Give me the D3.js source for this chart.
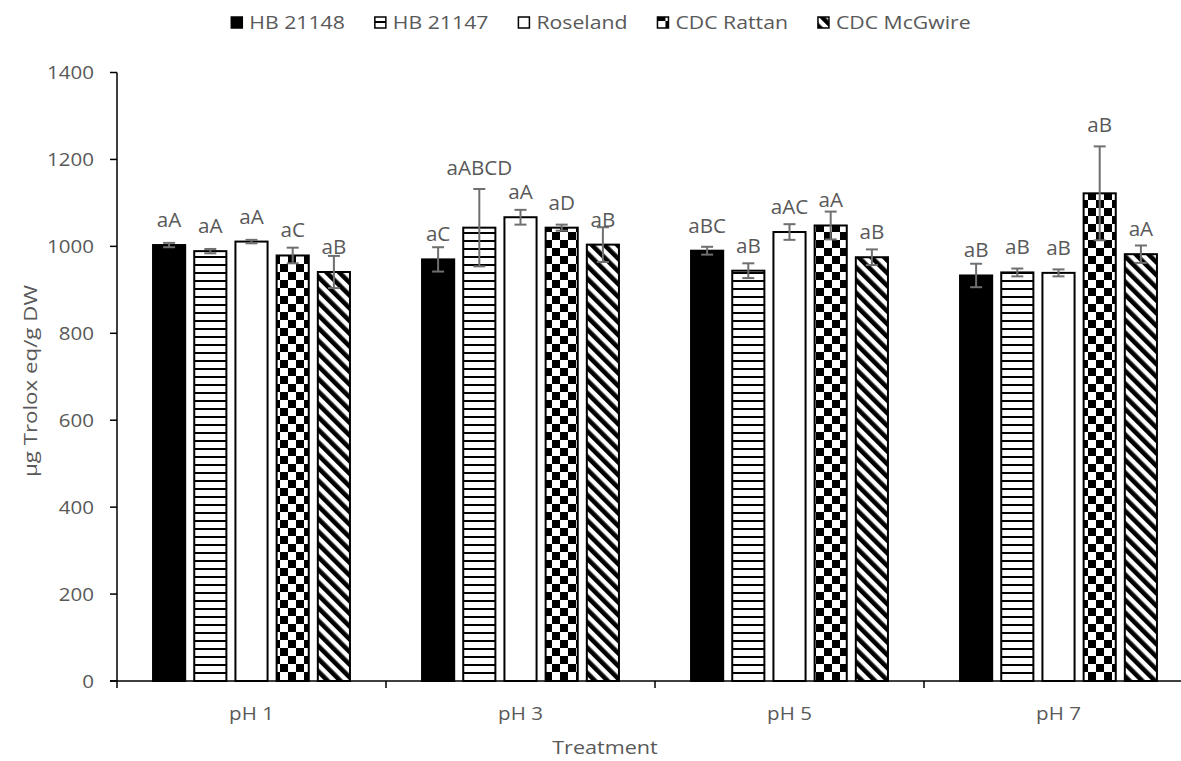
<!DOCTYPE html>
<html><head><meta charset="utf-8">
<script src="https://cdn.jsdelivr.net/npm/d3@7"></script>
<style>html,body{margin:0;padding:0;background:#fff;}svg{display:block;}</style>
</head><body>
<svg id="chart" width="1181" height="761"></svg>
<script>
// ---- data ----
const categories = ["pH 1", "pH 3", "pH 5", "pH 7"];
const seriesNames = ["HB 21148", "HB 21147", "Roseland", "CDC Rattan", "CDC McGwire"];
const hb21148 = [1003, 970, 990, 933];
const hb21147 = [989, 1043, 944, 940];
const roseland = [1011, 1067, 1033, 939];
const cdcRattan = [979, 1043, 1048, 1122];
const cdcMcGwire = [941, 1004, 975, 982];
const errHb21148 = [5, 28, 9, 27];
const errHb21147 = [5, 89, 17, 9];
const errRoseland = [4, 17, 18, 8];
const errCdcRattan = [18, 7, 32, 108];
const errCdcMcGwire = [37, 40, 18, 20];
const lblHb21148 = ["aA", "aC", "aBC", "aB"];
const lblHb21147 = ["aA", "aABCD", "aB", "aB"];
const lblRoseland = ["aA", "aA", "aAC", "aB"];
const lblCdcRattan = ["aC", "aD", "aA", "aB"];
const lblCdcMcGwire = ["aB", "aB", "aB", "aA"];
const yTicks = [0, 200, 400, 600, 800, 1000, 1200, 1400];
const yTitle = "µg Trolox eq/g DW";
const xTitle = "Treatment";

const values = [hb21148, hb21147, roseland, cdcRattan, cdcMcGwire];
const errors = [errHb21148, errHb21147, errRoseland, errCdcRattan, errCdcMcGwire];
const labels = [lblHb21148, lblHb21147, lblRoseland, lblCdcRattan, lblCdcMcGwire];

// ---- layout ----
const svg = d3.select("#chart");
const left = 117, band = 269, y0px = 681, yTopPx = 72.5;
const FONT = "'Open Sans', sans-serif";
const TXT = "#595959";
const FS = 18, SX = 1.14, FSL = 20, SXL = 1.03;

const x0 = d3.scaleBand().domain(categories).range([left, left + band * categories.length]).padding(0);
const x1 = d3.scaleBand().domain(seriesNames).range([0, band]).paddingInner(0.22).paddingOuter(0.875);
const y = d3.scaleLinear().domain([0, 1400]).range([y0px, yTopPx]);

// ---- patterns ----
const defs = svg.append("defs");
const pH = defs.append("pattern").attr("id", "p1").attr("patternUnits", "userSpaceOnUse").attr("width", 8).attr("height", 8);
pH.append("rect").attr("width", 8).attr("height", 8).attr("fill", "#fff");
pH.append("rect").attr("y", 0).attr("width", 8).attr("height", 2).attr("fill", "#000");
const pC = defs.append("pattern").attr("id", "p3").attr("patternUnits", "userSpaceOnUse").attr("width", 16).attr("height", 16);
pC.append("rect").attr("width", 16).attr("height", 16).attr("fill", "#fff");
pC.append("rect").attr("width", 8).attr("height", 8).attr("fill", "#000");
pC.append("rect").attr("x", 8).attr("y", 8).attr("width", 8).attr("height", 8).attr("fill", "#000");
const pD = defs.append("pattern").attr("id", "p4").attr("patternUnits", "userSpaceOnUse").attr("width", 9).attr("height", 9).attr("patternTransform", "rotate(-45)");
pD.append("rect").attr("width", 9).attr("height", 9).attr("fill", "#fff");
pD.append("rect").attr("width", 4.6).attr("height", 9).attr("fill", "#000");
const fills = ["#000", "url(#p1)", "#fff", "url(#p3)", "url(#p4)"];

function stext(parent, x, yy, str, opts) {
  opts = opts || {};
  const t = parent.append("text")
    .attr("transform", `translate(${x},${yy})` + (opts.rotate ? ` rotate(${opts.rotate})` : "") + ` scale(${opts.sx || SX},1)`)
    .attr("text-anchor", opts.anchor || "middle")
    .attr("font-family", FONT)
    .attr("font-size", opts.size || FS)
    .attr("fill", TXT)
    .text(str);
  return t;
}

// ---- bars ----
const gBars = svg.append("g");
seriesNames.forEach((s, si) => {
  categories.forEach((c, ci) => {
    const v = values[si][ci];
    gBars.append("rect")
      .attr("x", x0(c) + x1(s))
      .attr("y", y(v))
      .attr("width", x1.bandwidth())
      .attr("height", y(0) - y(v))
      .attr("fill", fills[si])
      .attr("stroke", "#000")
      .attr("stroke-width", 2);
  });
});

// ---- error bars ----
const gErr = svg.append("g").attr("stroke", "#6f6f6f").attr("stroke-width", 2);
seriesNames.forEach((s, si) => {
  categories.forEach((c, ci) => {
    const v = values[si][ci], e = errors[si][ci];
    const cx = x0(c) + x1(s) + x1.bandwidth() / 2;
    gErr.append("line").attr("x1", cx).attr("x2", cx).attr("y1", y(v + e)).attr("y2", y(v - e));
    gErr.append("line").attr("x1", cx - 6).attr("x2", cx + 6).attr("y1", y(v + e)).attr("y2", y(v + e));
    gErr.append("line").attr("x1", cx - 6).attr("x2", cx + 6).attr("y1", y(v - e)).attr("y2", y(v - e));
  });
});

// ---- data labels ----
const gLbl = svg.append("g");
seriesNames.forEach((s, si) => {
  categories.forEach((c, ci) => {
    const v = values[si][ci], e = errors[si][ci];
    const cx = x0(c) + x1(s) + x1.bandwidth() / 2;
    const base = e > 60 ? y(v + e) - 14 : y(v) - 18;
    stext(gLbl, cx, base, labels[si][ci], { size: FSL, sx: SXL });
  });
});

// ---- axes ----
const gAx = svg.append("g");
gAx.append("line").attr("x1", left).attr("x2", left).attr("y1", y(1400)).attr("y2", y(0)).attr("stroke", "#000").attr("stroke-width", 1.5);
yTicks.forEach(t => {
  gAx.append("line").attr("x1", left - 7).attr("x2", left).attr("y1", y(t)).attr("y2", y(t)).attr("stroke", "#000").attr("stroke-width", 1.5);
  stext(gAx, 94, y(t) + 6.5, String(t), { anchor: "end" });
});
gAx.append("line").attr("x1", left - 7).attr("x2", 1181).attr("y1", y(0)).attr("y2", y(0)).attr("stroke", "#000").attr("stroke-width", 1.5);
categories.forEach(c => {
  gAx.append("line").attr("x1", x0(c)).attr("x2", x0(c)).attr("y1", y(0)).attr("y2", y(0) + 7).attr("stroke", "#000").attr("stroke-width", 1.5);
  stext(gAx, x0(c) + x0.bandwidth() / 2, 720, c);
});

// ---- titles ----
stext(svg, 605, 754, xTitle, { sx: 1.2 });
stext(svg, 37, 381, yTitle, { rotate: -90, sx: 1.24 });

// ---- legend ----
const LSX = 1.18;
const gLeg = svg.append("g");
const items = [];
let cursor = 0;
seriesNames.forEach((s, si) => {
  const g = gLeg.append("g");
  g.append("rect").attr("x", 0).attr("y", -12).attr("width", 11).attr("height", 11)
    .attr("fill", fills[si]).attr("stroke", "#000").attr("stroke-width", 1.5);
  const t = stext(g, 18, 0, s, { anchor: "start", sx: LSX });
  const w = 18 + t.node().getBBox().width * LSX;
  items.push({ g, x: cursor });
  cursor += w + 30;
});
const totalW = cursor - 30;
const startX = 601 - totalW / 2;
items.forEach(it => it.g.attr("transform", `translate(${startX + it.x},29)`));
</script>
</body></html>
